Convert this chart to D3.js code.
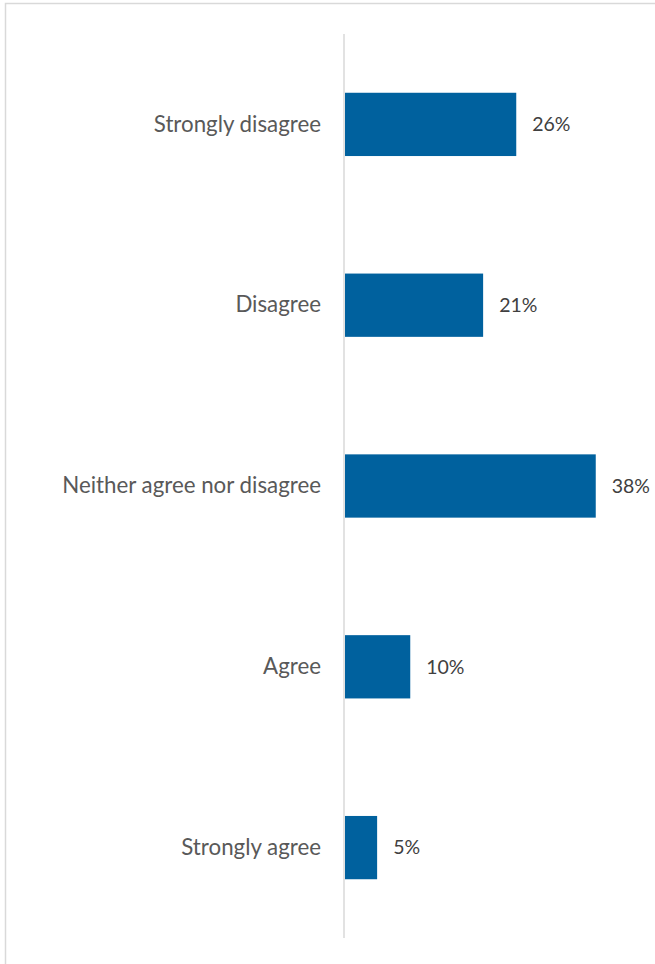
<!DOCTYPE html>
<html>
<head>
<meta charset="utf-8">
<script src="https://cdn.jsdelivr.net/npm/d3@7"></script>
<style>
  html, body { margin: 0; padding: 0; background: #fff; }
  svg { display: block; }
</style>
</head>
<body>
<div id="chart"></div>
<script>
'use strict';

// Survey responses - horizontal bar chart
const categories = ['Strongly disagree', 'Disagree', 'Neither agree nor disagree', 'Agree', 'Strongly agree'];
const values = [26, 21, 38, 10, 5];
const valueLabels = ['26%', '21%', '38%', '10%', '5%'];

const W = 655, H = 964;
const AXIS_X = 344, TOP = 34, BOTTOM = 938;
const BAR_COLOR = '#00619e';
const LABEL_COLOR = '#595959';
const VALUE_COLOR = '#404040';
const FONT = 'Lato, sans-serif';

const svg = d3.select('#chart').append('svg')
  .attr('width', W)
  .attr('height', H);

// chart area border (top + left edge visible)
svg.append('rect')
  .attr('x', 5.5).attr('y', 3.5)
  .attr('width', W + 10).attr('height', H + 10)
  .attr('fill', 'none')
  .attr('stroke', '#d9d9d9')
  .attr('stroke-width', 1.5);

const x = d3.scaleLinear().domain([0, 40]).range([AXIS_X, 609]);
const y = d3.scaleBand().domain(categories).range([TOP, BOTTOM]).paddingInner(0.65).paddingOuter(0.325);

svg.selectAll('rect.bar')
  .data(categories)
  .join('rect')
  .attr('class', 'bar')
  .attr('x', x(0) + 1)
  .attr('y', d => y(d))
  .attr('width', (d, i) => x(values[i]) - x(0) - 1)
  .attr('height', y.bandwidth())
  .attr('fill', BAR_COLOR);

// value labels
svg.selectAll('text.value')
  .data(categories)
  .join('text')
  .attr('class', 'value')
  .attr('x', (d, i) => x(values[i]) + 16)
  .attr('y', d => y(d) + y.bandwidth() / 2)
  .attr('dy', '0.35em')
  .attr('font-family', FONT)
  .attr('font-size', 19.5)
  .attr('fill', VALUE_COLOR)
  .text((d, i) => valueLabels[i]);

// category axis
const axis = d3.axisLeft(y).tickSize(0).tickPadding(23);
const g = svg.append('g')
  .attr('transform', `translate(${AXIS_X},0)`)
  .call(axis);
g.select('.domain').remove();
g.selectAll('text')
  .attr('font-family', FONT)
  .attr('font-size', 22.3)
  .attr('fill', LABEL_COLOR);

svg.append('line')
  .attr('x1', AXIS_X).attr('x2', AXIS_X)
  .attr('y1', TOP).attr('y2', BOTTOM)
  .attr('stroke', '#d9d9d9')
  .attr('stroke-width', 1.5);
</script>
</body>
</html>
